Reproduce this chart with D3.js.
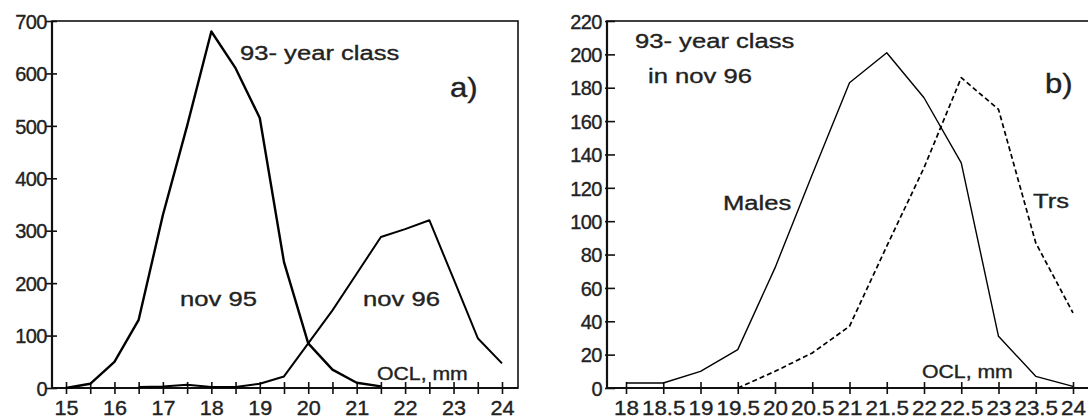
<!DOCTYPE html>
<html lang="en">
<head>
<meta charset="UTF-8">
<title>93- year class OCL distributions</title>
<script src="https://d3js.org/d3.v7.min.js"></script>
<style>
    body { margin: 0; background: #fff; }
    svg { display: block; font-family: "Liberation Sans", Arial, sans-serif; }
    text { fill: #222; stroke: #222; stroke-width: 0.35; }
</style>
</head>
<body>
<div id="chart"></div>
<script>
// panel a) - 93 year class, nov 95 vs nov 96
const oclA = [15, 15.5, 16, 16.5, 17, 17.5, 18, 18.5, 19, 19.5, 20, 20.5, 21, 21.5, 22, 22.5, 23, 23.5, 24];
const nov95 = [0, 8, 50, 130, 330, 500, 680, 610, 515, 240, 85, 35, 10, 3, null, null, null, null, null];
const nov96 = [null, null, null, 2, 3, 6, 2, 2, 8, 22, 85, 148, 218, 288, 303, 320, 208, 95, 47];
const yTicksA = [0, 100, 200, 300, 400, 500, 600, 700];
const xLabelsA = [15, 16, 17, 18, 19, 20, 21, 22, 23, 24];

// panel b) - 93 year class in nov 96, males vs Trs
const oclB = [18, 18.5, 19, 19.5, 20, 20.5, 21, 21.5, 22, 22.5, 23, 23.5, 24];
const males = [3, 3, 10, 23, 72, 128, 183, 201, 174, 135, 31, 7, 1];
const trs = [null, null, null, 0, 10, 21, 37, 85, 132, 186, 167, 87, 45];
const yTicksB = [0, 20, 40, 60, 80, 100, 120, 140, 160, 180, 200, 220];

const W = 1088, H = 420;
const svg = d3.select("#chart").append("svg")
    .attr("width", W).attr("height", H);

// stretched text, the scanned figure has wide lettering
function note(x, y, txt, size, sx) {
    svg.append("text")
        .attr("transform", `translate(${x},${y}) scale(${sx || 1.22},1)`)
        .attr("font-size", size || 21)
        .text(txt);
}

function panel(opt) {
    const x = d3.scaleLinear().domain(opt.xDom).range(opt.xRange);
    const y = d3.scaleLinear().domain(opt.yDom).range([388, 21]);
    const g = svg.append("g");

    // frame
    g.append("rect")
        .attr("x", opt.left).attr("y", 21)
        .attr("width", opt.right - opt.left).attr("height", 388 - 21)
        .attr("fill", "none").attr("stroke", "#111").attr("stroke-width", 1.6);

    // x axis
    const xAxis = d3.axisBottom(x)
        .tickValues(opt.xTicks)
        .tickSize(6)
        .tickFormat(d => opt.xLabel(d));
    const gx = g.append("g").attr("transform", "translate(0,388)").call(xAxis);
    gx.select(".domain").remove();
    gx.selectAll(".tick line").attr("y1", -6).attr("y2", 6)
        .attr("stroke", "#111").attr("stroke-width", 1.6);
    gx.selectAll(".tick text").attr("y", 0).attr("dy", 0)
        .attr("transform", `translate(0,27) scale(${opt.xLabelScale},1)`)
        .attr("font-size", 20).attr("font-family", "Liberation Sans, Arial, sans-serif")
        .attr("fill", "#222");
    g.append("line")
        .attr("x1", opt.left).attr("x2", opt.axisEnd)
        .attr("y1", 388).attr("y2", 388)
        .attr("stroke", "#111").attr("stroke-width", 2.2);

    // y axis
    const yAxis = d3.axisLeft(y).tickValues(opt.yTicks).tickSize(0);
    const gy = g.append("g").attr("transform", `translate(${opt.left},0)`).call(yAxis);
    gy.select(".domain").remove();
    gy.selectAll(".tick line").attr("x1", -opt.tickOut).attr("x2", opt.tickIn)
        .attr("stroke", "#111").attr("stroke-width", 1.6);
    gy.selectAll(".tick text").attr("x", -5).attr("dy", "0.36em")
        .attr("font-size", 20).attr("font-family", "Liberation Sans, Arial, sans-serif")
        .attr("fill", "#222").attr("letter-spacing", -0.5);
    g.append("line")
        .attr("x1", opt.left).attr("x2", opt.left)
        .attr("y1", 21).attr("y2", 388)
        .attr("stroke", "#111").attr("stroke-width", 2.2);

    const line = d3.line()
        .defined(d => d[1] != null)
        .x(d => x(d[0])).y(d => y(d[1]));

    opt.series.forEach(s => {
        g.append("path")
            .datum(opt.xs.map((v, i) => [v, s.values[i]]))
            .attr("d", line)
            .attr("fill", "none")
            .attr("stroke", "#000")
            .attr("stroke-width", s.width)
            .attr("stroke-dasharray", s.dash || null)
            .attr("stroke-linejoin", "round");
    });
}

panel({
    xDom: [15, 24], xRange: [66, 502], yDom: [0, 700],
    left: 52, right: 518, axisEnd: 518,
    xTicks: d3.range(15, 24.01, 0.5),
    xLabel: d => xLabelsA.includes(d) ? d : "",
    xLabelScale: 1.08,
    yTicks: yTicksA, tickOut: 6, tickIn: 5,
    xs: oclA,
    series: [
        { values: nov95, width: 2.4 },
        { values: nov96, width: 2 }
    ]
});

panel({
    xDom: [18, 24], xRange: [626, 1073], yDom: [0, 220],
    left: 607, right: 1096, axisEnd: 1088,
    xTicks: oclB,
    xLabel: d => d,
    xLabelScale: 1.12,
    yTicks: yTicksB, tickOut: 2, tickIn: 8,
    xs: oclB,
    series: [
        { values: males, width: 1.4 },
        { values: trs, width: 1.7, dash: "5,3" }
    ]
});

// annotations panel a
note(240, 60, "93- year class");
note(450, 97, "a)", 27, 1.15);
note(180, 306, "nov 95");
note(363, 306, "nov 96");
note(377, 380, "OCL, mm", 18, 1.18);

// annotations panel b
note(635, 48, "93- year class");
note(648, 83, "in nov 96");
note(723, 210, "Males");
note(1033, 208, "Trs");
note(1045, 93, "b)", 27, 1.15);
note(922, 378, "OCL, mm", 18, 1.18);
</script>
</body>
</html>
